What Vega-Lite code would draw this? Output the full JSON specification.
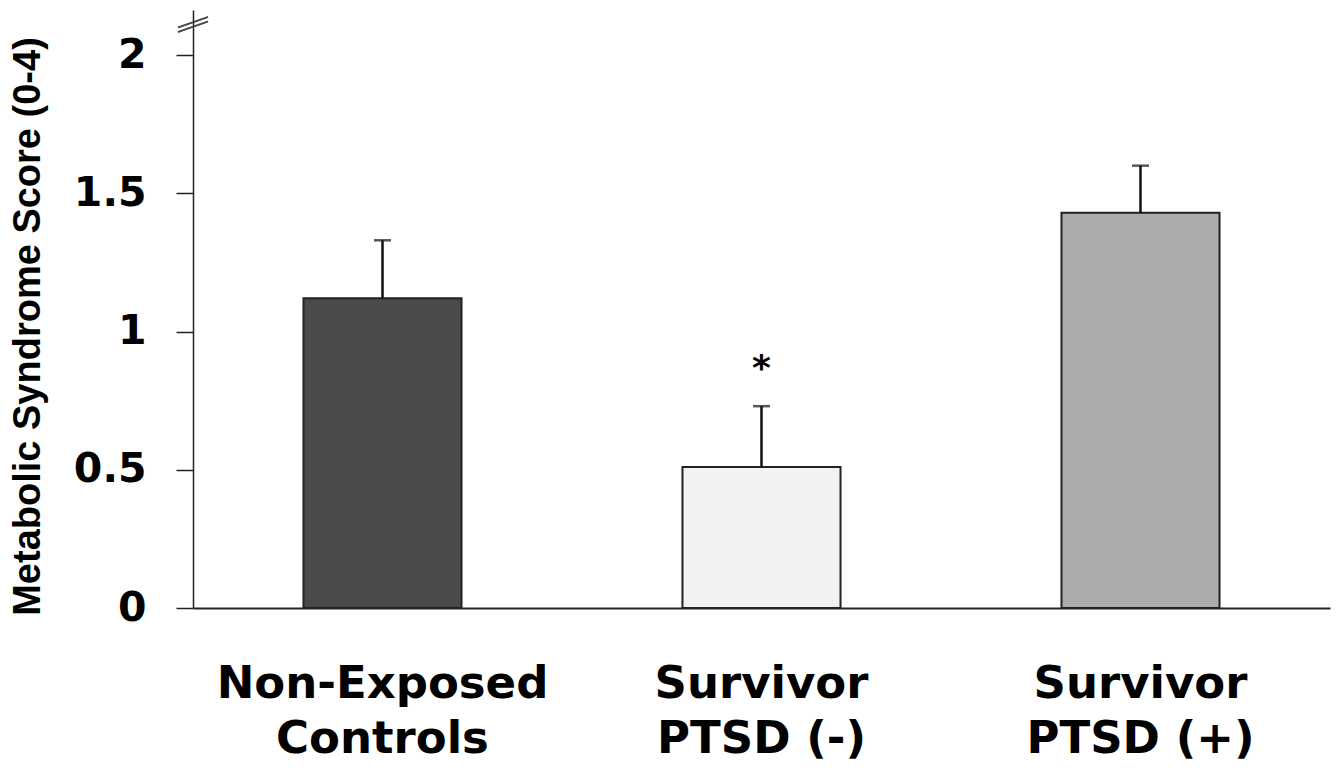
{
  "$schema": "https://vega.github.io/schema/vega-lite/v6.json",
  "description": "Metabolic syndrome score by group, bars with one-sided error bars.",
  "autosize": "none",
  "padding": {"left": 193, "top": 10, "right": 9, "bottom": 160},
  "width": 1137,
  "height": 598,
  "background": "white",
  "config": {"view": {"stroke": null}},
  "data": {
    "values": [
      {"group": "Non-Exposed Controls", "score": 1.12, "hi": 1.33, "sig": ""},
      {"group": "Survivor PTSD (-)", "score": 0.51, "hi": 0.73, "sig": "*"},
      {"group": "Survivor PTSD (+)", "score": 1.43, "hi": 1.6, "sig": ""}
    ]
  },
  "encoding": {
    "x": {
      "field": "group",
      "type": "nominal",
      "sort": null,
      "scale": {"paddingInner": 0, "paddingOuter": 0},
      "axis": {
        "title": null,
        "labelAngle": 0,
        "ticks": false,
        "domainColor": "#222",
        "domainWidth": 2,
        "labelFont": "DejaVu Sans",
        "labelFontWeight": "bold",
        "labelFontSize": 45,
        "labelColor": "black",
        "labelLimit": 1000,
        "labelLineHeight": 55,
        "labelBaseline": "top",
        "labelPadding": 53,
        "labelExpr": "[substring(datum.label, 0, indexof(datum.label, ' ')), substring(datum.label, indexof(datum.label, ' ') + 1)]"
      }
    }
  },
  "layer": [
    {
      "mark": {"type": "bar", "stroke": "#222", "strokeWidth": 2, "width": {"band": 0.417}},
      "encoding": {
        "y": {
          "field": "score",
          "type": "quantitative",
          "scale": {"domain": [0, 2.163], "nice": false},
          "axis": {
            "values": [0, 0.5, 1, 1.5, 2],
            "format": "~g",
            "grid": false,
            "tickSize": 17,
            "tickColor": "#222",
            "tickWidth": 1.5,
            "domainColor": "#222",
            "domainWidth": 1.5,
            "labelFont": "DejaVu Sans",
            "labelFontWeight": "bold",
            "labelFontSize": 41,
            "labelColor": "black",
            "labelPadding": 30,
            "title": "Metabolic Syndrome Score (0-4)",
            "titleFont": "Liberation Sans",
            "titleFontWeight": "bold",
            "titleFontSize": 38,
            "titleColor": "black",
            "titleAngle": -90,
            "titleX": -165,
            "titleY": 316,
            "titleAlign": "center",
            "titleBaseline": "middle"
          }
        },
        "color": {
          "field": "group",
          "type": "nominal",
          "sort": null,
          "scale": {"range": ["#4a4a4a", "#f2f2f2", "#ababab"]},
          "legend": null
        }
      }
    },
    {
      "mark": {"type": "rule", "color": "#111", "strokeWidth": 2.5},
      "encoding": {
        "y": {"field": "score", "type": "quantitative"},
        "y2": {"field": "hi"}
      }
    },
    {
      "mark": {"type": "tick", "color": "#111", "thickness": 2.5, "size": 17, "orient": "horizontal"},
      "encoding": {
        "y": {"field": "hi", "type": "quantitative"}
      }
    },
    {
      "mark": {"type": "text", "font": "DejaVu Sans", "fontWeight": "bold", "fontSize": 36, "baseline": "alphabetic", "dy": -26, "color": "black"},
      "encoding": {
        "y": {"field": "hi", "type": "quantitative"},
        "text": {"field": "sig"}
      }
    },
    {
      "mark": {"type": "point", "shape": "M-1,0.45L1,-0.25M-1,0.15L1,-0.55", "filled": false, "stroke": "#444", "strokeWidth": 1.5, "size": 900},
      "encoding": {
        "x": {"datum": "Non-Exposed Controls", "bandPosition": 0},
        "y": {"datum": 2.108, "type": "quantitative"}
      }
    }
  ]
}
